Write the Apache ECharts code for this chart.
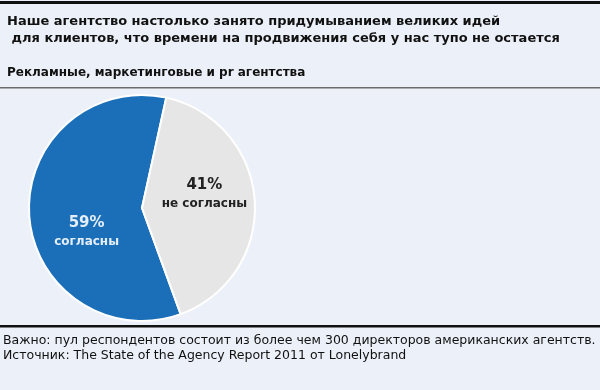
<!DOCTYPE html>
<html>
<head>
<meta charset="utf-8">
<script src="https://cdn.jsdelivr.net/npm/echarts@6/dist/echarts.min.js"></script>
<style>html,body{margin:0;padding:0;background:#ECF0F8;}#c{width:600px;height:390px;}</style>
</head>
<body>
<div id="c"></div>
<script>
var titleLines = ["Наше агентство настолько занято придумыванием великих идей", " для клиентов, что времени на продвижения себя у нас тупо не остается"];
var subtitleText = "Рекламные, маркетинговые и pr агентства";
var noteLines = ["Важно: пул респондентов состоит из более чем 300 директоров американских агентств.", "Источник: The State of the Agency Report 2011 от Lonelybrand"];
var categories = ["согласны", "не согласны"];
var values = [59, 41];
var sliceColors = ["#1B6FB9", "#E6E6E6"];
var labelColors = ["#E4EEF8", "#222222"];

var chart = echarts.init(document.getElementById('c'), null, {renderer: 'canvas'});
var font = "'DejaVu Sans', sans-serif";
chart.setOption({
  backgroundColor: '#ECF0F8',
  animation: false,
  title: [
    {text: titleLines.join('\n'), left: 7, top: 13, padding: 0,
     textStyle: {fontFamily: font, fontSize: 13, fontWeight: 'bold', color: '#111', lineHeight: 17}},
    {text: subtitleText, left: 7, top: 67, padding: 0,
     textStyle: {fontFamily: font, fontSize: 12, fontWeight: 'bold', color: '#111'}},
    {text: noteLines.join('\n'), left: 3, top: 333, padding: 0,
     textStyle: {fontFamily: font, fontSize: 12.5, fontWeight: 'normal', color: '#111', lineHeight: 15}}
  ],
  graphic: [
    {type: 'rect', shape: {x: 0, y: 1, width: 600, height: 3}, style: {fill: '#111'}},
    {type: 'rect', shape: {x: 0, y: 87, width: 600, height: 1.5}, style: {fill: '#6A6A6A'}},
    {type: 'rect', shape: {x: 0, y: 325, width: 600, height: 2.5}, style: {fill: '#111'}}
  ],
  series: [{
    type: 'pie',
    center: [142, 208],
    radius: [0, 113],
    startAngle: 290,
    clockwise: true,
    silent: true,
    itemStyle: {borderColor: '#FFFFFF', borderWidth: 2},
    label: {
      show: true, position: 'inside',
      formatter: function (p) { return '{p|' + p.value + '%}\n{n|' + p.name + '}'; },
      rich: {
        p: {fontFamily: font, fontSize: 15, fontWeight: 'bold', lineHeight: 20},
        n: {fontFamily: font, fontSize: 12, fontWeight: 'bold', lineHeight: 18}
      }
    },
    labelLine: {show: false},
    labelLayout: function (p) {
      return p.dataIndex === 0 ? {dx: 4, dy: 20} : {dx: 3, dy: -10};
    },
    data: categories.map(function (c, i) {
      return {name: c, value: values[i], itemStyle: {color: sliceColors[i]},
        label: {color: labelColors[i], rich: {p: {color: labelColors[i]}, n: {color: labelColors[i]}}}};
    })
  }]
});
</script>
</body>
</html>
